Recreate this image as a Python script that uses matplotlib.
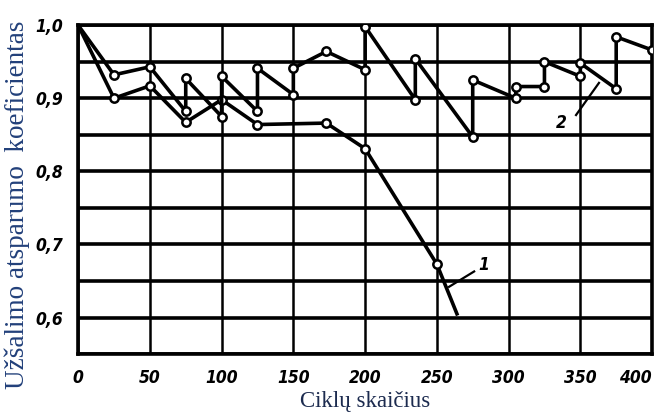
import numpy as np
import matplotlib.pyplot as plt
from matplotlib.ticker import FixedLocator, FuncFormatter

# 1 kreivė
cycles_1 = [0, 25, 50, 75, 100, 125, 173, 200, 250, 264]
coef_1 = [1.0, 0.900, 0.917, 0.867, 0.898, 0.864, 0.866, 0.831, 0.673, 0.605]

# 2 kreivė
cycles_2 = [0, 25, 50, 75, 75, 100, 100, 125, 125, 150, 150, 173, 200, 200,
            235, 235, 275, 275, 305, 305, 325, 325, 350, 350, 375, 375, 400]
coef_2 = [1.0, 0.932, 0.943, 0.882, 0.927, 0.875, 0.930, 0.882, 0.941, 0.905,
          0.941, 0.964, 0.939, 0.998, 0.898, 0.954, 0.847, 0.925, 0.900, 0.916,
          0.916, 0.950, 0.930, 0.948, 0.913, 0.984, 0.966]

x_ticks = [0, 50, 100, 150, 200, 250, 300, 350, 400]
y_major = [0.6, 0.7, 0.8, 0.9, 1.0]
y_minor = [0.55, 0.65, 0.75, 0.85, 0.95]

tick_font = dict(family=['DejaVu Sans'], stretch='condensed',
                 weight='bold', style='italic', size=12.5)

fig = plt.figure(figsize=(6.62, 4.19), dpi=100)
ax = fig.add_axes([0.118, 0.155, 0.867, 0.785])

ax.set_xlim(0, 400)
ax.set_ylim(0.55, 1.0)

# tinklelis
for y in y_major + y_minor:
    ax.axhline(y, color='black', lw=2.6, zorder=1)
for x in x_ticks:
    ax.axvline(x, color='black', lw=1.8, zorder=1)

ax.plot(cycles_1, coef_1, color='black', lw=2.6, marker='o', ms=6,
        mfc='white', mec='black', mew=1.8, markevery=list(range(1, 9)), zorder=3)
ax.plot(cycles_2, coef_2, color='black', lw=2.6, marker='o', ms=6,
        mfc='white', mec='black', mew=1.8, markevery=list(range(1, len(cycles_2))), zorder=3)

# kreivių numeriai
ax.plot([258.5, 276], [0.642, 0.663], color='black', lw=1.6, zorder=3)
ax.text(279, 0.672, '1', ha='left', va='center', **tick_font)
ax.plot([347, 363], [0.877, 0.921], color='black', lw=1.6, zorder=3)
ax.text(337, 0.866, '2', ha='center', va='center', **tick_font)

ax.xaxis.set_major_locator(FixedLocator(x_ticks))
ax.yaxis.set_major_locator(FixedLocator(y_major))
ax.yaxis.set_major_formatter(FuncFormatter(lambda v, p: f'{v:.1f}'.replace('.', ',')))
ax.tick_params(axis='x', length=0, pad=11)
ax.tick_params(axis='y', length=0, pad=11)
for lab in ax.get_xticklabels() + ax.get_yticklabels():
    lab.set_fontfamily(tick_font['family'])
    lab.set_fontstretch('condensed')
    lab.set_fontweight('bold')
    lab.set_fontstyle('italic')
    lab.set_fontsize(tick_font['size'])
ax.get_xticklabels()[-1].set_horizontalalignment('right')

for s in ax.spines.values():
    s.set_linewidth(2.6)

ax.set_xlabel('Ciklų skaičius', family='Liberation Serif', fontsize=16.5,
              color='#1c2b4f', labelpad=3)
ax.set_ylabel('Užšalimo atsparumo  koeficientas', family='Liberation Serif',
              fontsize=19.5, color='#22407a')
ax.yaxis.set_label_coords(-0.083, 0.455)

fig.savefig('out.png', dpi=100)
